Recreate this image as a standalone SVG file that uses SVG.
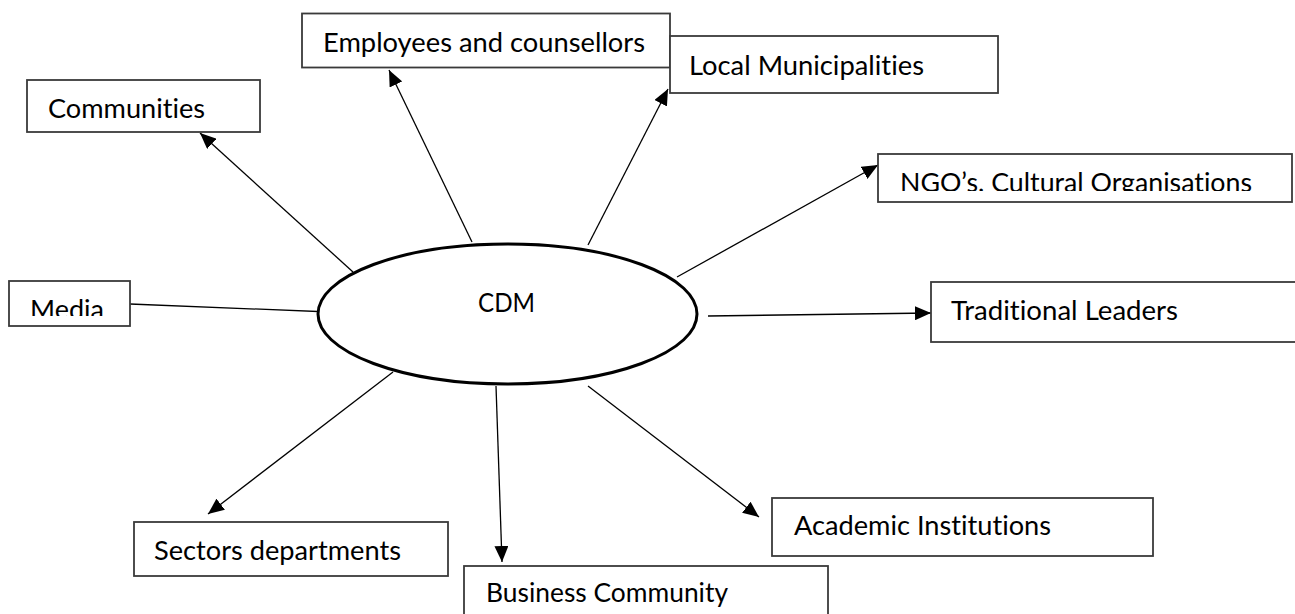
<svg xmlns="http://www.w3.org/2000/svg" width="1295" height="614" viewBox="0 0 1295 614">
  <style>
    .box { fill: #ffffff; stroke: #3a3a3a; stroke-width: 1.8; }
    .lbl { font-family: Lato, "Open Sans", "Liberation Sans", sans-serif; font-size: 27.5px; fill: #000000; font-variant-ligatures: none; }
    .link { stroke: #000000; stroke-width: 1.3; fill: none; }
    .hub { fill: #ffffff; stroke: #000000; stroke-width: 3; }
  </style>
  <defs>
    <marker id="head" markerUnits="userSpaceOnUse" markerWidth="16" markerHeight="14" refX="16" refY="7" orient="auto">
      <path d="M0,0 L16,7 L0,14 z" fill="#000000"/>
    </marker>
    <!-- text areas narrower than their frames, so the labels lose their lower edge -->
    <clipPath id="clip-ngo"><rect x="879" y="155" width="412" height="36"/></clipPath>
    <clipPath id="clip-media"><rect x="10" y="282" width="119" height="34"/></clipPath>
  </defs>

  <rect width="1295" height="614" fill="#ffffff"/>

  <g id="connectors">
    <line class="link" x1="353" y1="272" x2="200" y2="133" marker-end="url(#head)"/>
    <line class="link" x1="472" y1="242" x2="389" y2="70" marker-end="url(#head)"/>
    <line class="link" x1="588" y1="245" x2="668" y2="89" marker-end="url(#head)"/>
    <line class="link" x1="677" y1="277" x2="878" y2="165" marker-end="url(#head)"/>
    <line class="link" x1="130" y1="304" x2="330" y2="312"/>
    <line class="link" x1="708" y1="316" x2="931" y2="313" marker-end="url(#head)"/>
    <line class="link" x1="393" y1="372" x2="208" y2="514" marker-end="url(#head)"/>
    <line class="link" x1="496" y1="386" x2="502" y2="562" marker-end="url(#head)"/>
    <line class="link" x1="588" y1="386" x2="759" y2="517" marker-end="url(#head)"/>
  </g>

  <g id="node-cdm">
    <ellipse class="hub" cx="507.5" cy="314" rx="189.5" ry="70"/>
    <text class="lbl" x="478" y="312" textLength="57" lengthAdjust="spacingAndGlyphs">CDM</text>
  </g>

  <g id="node-employees">
    <rect class="box" x="302" y="13.5" width="368" height="54"/>
    <text class="lbl" x="323" y="52" textLength="322" lengthAdjust="spacingAndGlyphs">Employees and counsellors</text>
  </g>

  <g id="node-local">
    <rect class="box" x="670" y="36" width="328" height="57"/>
    <text class="lbl" x="689" y="75" textLength="235" lengthAdjust="spacingAndGlyphs">Local Municipalities</text>
  </g>

  <g id="node-communities">
    <rect class="box" x="27" y="80" width="233" height="52"/>
    <text class="lbl" x="48" y="118" textLength="157" lengthAdjust="spacingAndGlyphs">Communities</text>
  </g>

  <g id="node-ngo">
    <rect class="box" x="878" y="154" width="414" height="48"/>
    <text class="lbl" x="900" y="192" textLength="352" lengthAdjust="spacingAndGlyphs" clip-path="url(#clip-ngo)">NGO’s. Cultural Organisations</text>
  </g>

  <g id="node-media">
    <rect class="box" x="9" y="281" width="121" height="45"/>
    <text class="lbl" x="30" y="318.5" textLength="74" lengthAdjust="spacingAndGlyphs" clip-path="url(#clip-media)">Media</text>
  </g>

  <g id="node-traditional">
    <rect class="box" x="931" y="282" width="380" height="60"/>
    <text class="lbl" x="951" y="320" textLength="227" lengthAdjust="spacingAndGlyphs">Traditional Leaders</text>
  </g>

  <g id="node-sectors">
    <rect class="box" x="134" y="522" width="314" height="54"/>
    <text class="lbl" x="154" y="560" textLength="247" lengthAdjust="spacingAndGlyphs">Sectors departments</text>
  </g>

  <g id="node-business">
    <rect class="box" x="464" y="566" width="364" height="60"/>
    <text class="lbl" x="486" y="602" textLength="242" lengthAdjust="spacingAndGlyphs">Business Community</text>
  </g>

  <g id="node-academic">
    <rect class="box" x="772" y="498" width="381" height="58"/>
    <text class="lbl" x="794" y="535" textLength="257" lengthAdjust="spacingAndGlyphs">Academic Institutions</text>
  </g>
</svg>
